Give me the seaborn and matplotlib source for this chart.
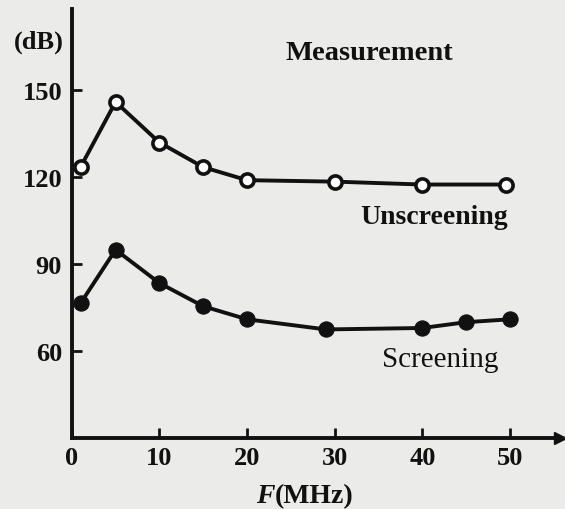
import matplotlib
matplotlib.use("Agg")
import matplotlib.pyplot as plt
import seaborn as sns
import pandas as pd

# Data
freq_unscr = [1, 5, 10, 15, 20, 30, 40, 49.5]
db_unscr = [123.5, 146, 132, 123.5, 119, 118.5, 117.5, 117.5]
freq_scr = [1, 5, 10, 15, 20, 29, 40, 45, 50]
db_scr = [76.5, 95, 83.5, 75.5, 71, 67.5, 68, 70, 71]
x_ticks = [0, 10, 20, 30, 40, 50]
y_ticks = [60, 90, 120, 150]

sns.set_style("ticks")
plt.rcParams['font.family'] = ['Liberation Serif', 'DejaVu Serif']

bg = '#ebebe9'
ink = '#111111'
fig = plt.figure(figsize=(5.65, 5.10), dpi=100, facecolor=bg)
ax = fig.add_axes([0.127, 0.139, 0.864, 0.841], facecolor=bg)

df_u = pd.DataFrame({'F': freq_unscr, 'dB': db_unscr})
df_s = pd.DataFrame({'F': freq_scr, 'dB': db_scr})

sns.lineplot(data=df_u, x='F', y='dB', ax=ax, color=ink, linewidth=2.8,
             marker='o', markersize=9.5, markerfacecolor='white',
             markeredgecolor=ink, markeredgewidth=2.6, sort=False)
sns.lineplot(data=df_s, x='F', y='dB', ax=ax, color=ink, linewidth=2.8,
             marker='o', markersize=11, markerfacecolor=ink,
             markeredgecolor=ink, sort=False)

ax.set_xlim(0, 55.7)
ax.set_ylim(30, 178)
ax.set_xticks(x_ticks)
ax.set_yticks(y_ticks)
ax.set_xticklabels([str(v) for v in x_ticks], fontsize=19, fontweight='bold')
ax.set_yticklabels([str(v) for v in y_ticks], fontsize=19, fontweight='bold')
ax.tick_params(direction='in', length=7, width=2, colors=ink)
ax.tick_params(axis='x', pad=6)
ax.tick_params(axis='y', pad=7)
ax.set_xlabel('')
ax.set_ylabel('')

sns.despine(ax=ax)
for s in ['left', 'bottom']:
    ax.spines[s].set_linewidth(2.8)
    ax.spines[s].set_color(ink)
ax.plot(1, 0, '>', color=ink, markersize=8, transform=ax.transAxes, clip_on=False)

fig.text(14/565, 1-42/510, '(dB)', fontsize=19, fontweight='bold', color=ink, va='center', ha='left')
fig.text(285/565, 1-53/510, 'Measurement', fontsize=20.5, fontweight='bold', color=ink, va='center', ha='left')
fig.text(360/565, 1-217/510, 'Unscreening', fontsize=20, fontweight='bold', color=ink, va='center', ha='left')
fig.text(382/565, 1-360/510, 'Screening', fontsize=21, color=ink, va='center', ha='left')
fig.text(275/565, 1-497/510, 'F', fontsize=20, fontweight='bold', fontstyle='italic', color=ink, va='center', ha='right')
fig.text(275/565, 1-497/510, '(MHz)', fontsize=20, fontweight='bold', color=ink, va='center', ha='left')

fig.savefig('out.png', dpi=100, facecolor=bg)
